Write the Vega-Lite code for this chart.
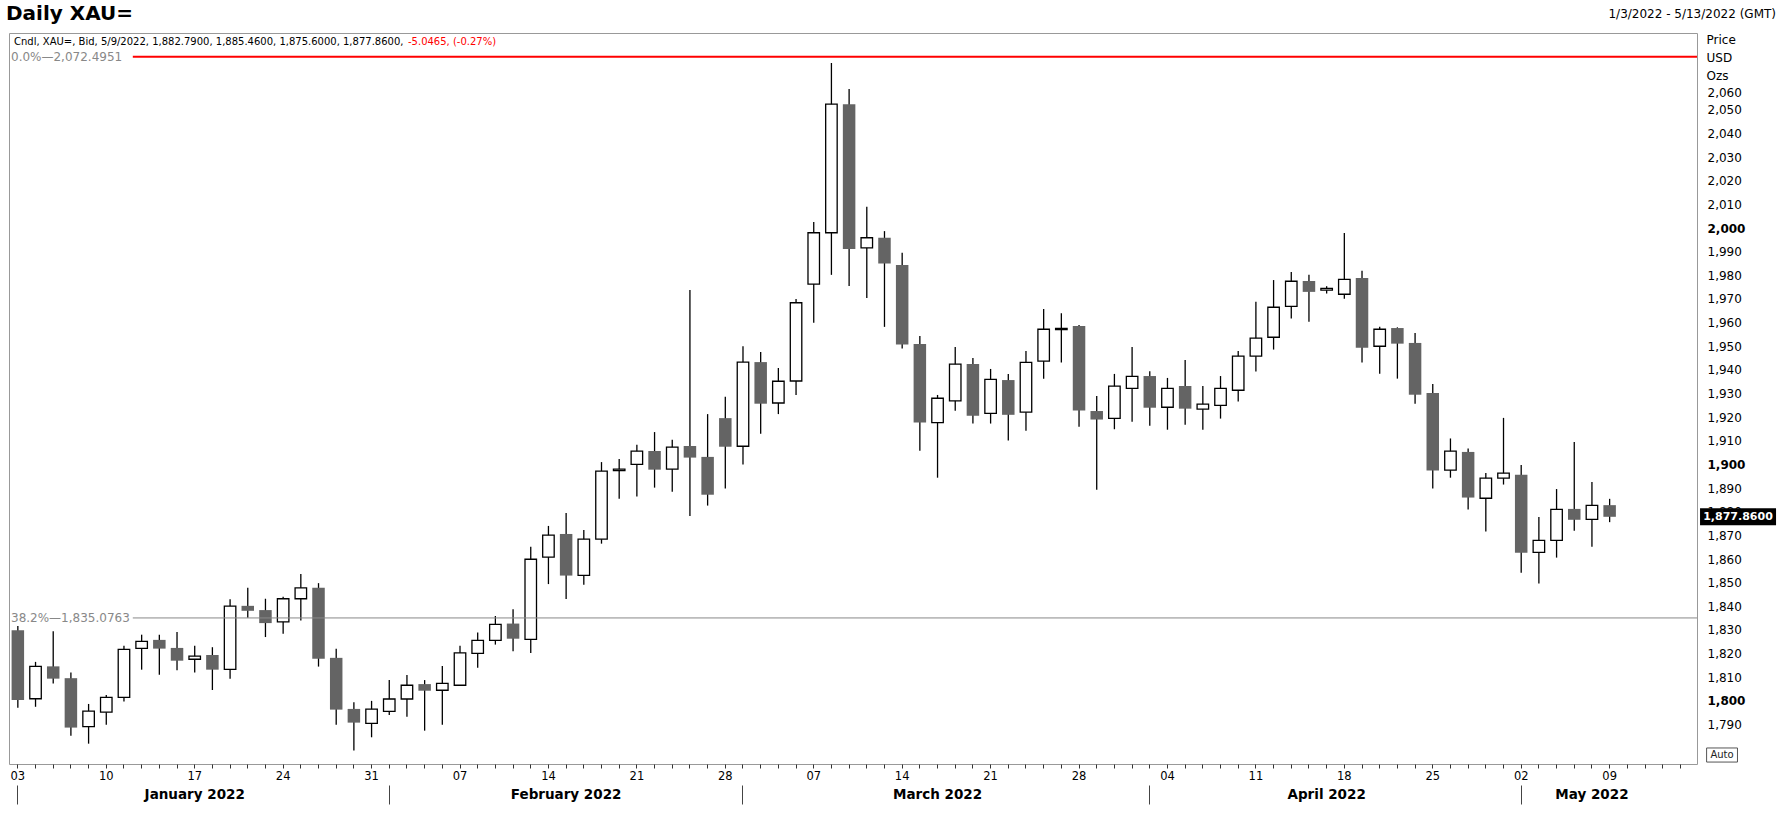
{
"$schema": "https://vega.github.io/schema/vega-lite/v6.json",
"width": 1688, "height": 731,
"autosize": {"type": "none"},
"padding": {"left": 9, "top": 33, "right": 91, "bottom": 63},
"background": "white",
"datasets": {"candles": [
{"d":"2022-01-03","o":1829.9,"h":1831.7,"l":1797.1,"c":1800.4},
{"d":"2022-01-04","o":1800.9,"h":1816.5,"l":1797.5,"c":1814.6},
{"d":"2022-01-05","o":1814.6,"h":1829.4,"l":1807.3,"c":1809.4},
{"d":"2022-01-06","o":1809.6,"h":1812.0,"l":1785.3,"c":1788.7},
{"d":"2022-01-07","o":1789.1,"h":1798.7,"l":1781.9,"c":1795.7},
{"d":"2022-01-10","o":1795.2,"h":1802.5,"l":1789.9,"c":1801.5},
{"d":"2022-01-11","o":1801.5,"h":1823.3,"l":1799.7,"c":1821.8},
{"d":"2022-01-12","o":1822.2,"h":1828.0,"l":1813.2,"c":1825.2},
{"d":"2022-01-13","o":1825.8,"h":1828.0,"l":1811.0,"c":1822.1},
{"d":"2022-01-14","o":1822.4,"h":1829.1,"l":1813.0,"c":1817.0},
{"d":"2022-01-17","o":1817.6,"h":1823.3,"l":1812.0,"c":1818.9},
{"d":"2022-01-18","o":1819.4,"h":1822.7,"l":1804.6,"c":1813.2},
{"d":"2022-01-19","o":1813.3,"h":1843.0,"l":1809.4,"c":1840.1},
{"d":"2022-01-20","o":1840.2,"h":1847.8,"l":1835.2,"c":1838.1},
{"d":"2022-01-21","o":1838.4,"h":1843.2,"l":1827.0,"c":1832.9},
{"d":"2022-01-24","o":1833.4,"h":1844.0,"l":1828.4,"c":1843.2},
{"d":"2022-01-25","o":1843.2,"h":1853.7,"l":1834.0,"c":1847.8},
{"d":"2022-01-26","o":1847.8,"h":1849.8,"l":1814.5,"c":1817.8},
{"d":"2022-01-27","o":1818.2,"h":1822.0,"l":1789.9,"c":1796.3},
{"d":"2022-01-28","o":1796.6,"h":1799.4,"l":1779.0,"c":1790.8},
{"d":"2022-01-31","o":1790.5,"h":1800.0,"l":1784.6,"c":1796.5},
{"d":"2022-02-01","o":1795.6,"h":1808.8,"l":1794.0,"c":1800.8},
{"d":"2022-02-02","o":1800.8,"h":1810.9,"l":1793.3,"c":1806.6},
{"d":"2022-02-03","o":1807.1,"h":1808.8,"l":1787.4,"c":1804.3},
{"d":"2022-02-04","o":1804.5,"h":1814.7,"l":1789.9,"c":1807.4},
{"d":"2022-02-07","o":1806.6,"h":1823.3,"l":1806.6,"c":1820.3},
{"d":"2022-02-08","o":1820.1,"h":1828.9,"l":1814.0,"c":1825.6},
{"d":"2022-02-09","o":1825.6,"h":1835.9,"l":1823.8,"c":1832.4},
{"d":"2022-02-10","o":1832.7,"h":1838.8,"l":1821.0,"c":1826.3},
{"d":"2022-02-11","o":1826.0,"h":1865.2,"l":1820.2,"c":1859.9},
{"d":"2022-02-14","o":1860.8,"h":1874.0,"l":1849.4,"c":1870.1},
{"d":"2022-02-15","o":1870.6,"h":1879.5,"l":1843.1,"c":1853.0},
{"d":"2022-02-16","o":1853.1,"h":1872.3,"l":1849.1,"c":1868.4},
{"d":"2022-02-17","o":1868.4,"h":1901.0,"l":1866.5,"c":1897.2},
{"d":"2022-02-18","o":1897.4,"h":1902.3,"l":1885.5,"c":1898.0},
{"d":"2022-02-21","o":1900.0,"h":1908.3,"l":1886.4,"c":1905.6},
{"d":"2022-02-22","o":1905.7,"h":1913.7,"l":1890.2,"c":1897.8},
{"d":"2022-02-23","o":1898.0,"h":1910.4,"l":1888.5,"c":1907.3},
{"d":"2022-02-24","o":1907.8,"h":1973.8,"l":1878.2,"c":1902.9},
{"d":"2022-02-25","o":1903.2,"h":1921.3,"l":1882.6,"c":1887.2},
{"d":"2022-02-28","o":1919.6,"h":1928.6,"l":1889.8,"c":1907.5},
{"d":"2022-03-01","o":1907.7,"h":1950.0,"l":1900.0,"c":1943.3},
{"d":"2022-03-02","o":1943.3,"h":1947.6,"l":1913.0,"c":1925.7},
{"d":"2022-03-03","o":1926.0,"h":1940.8,"l":1921.3,"c":1935.2},
{"d":"2022-03-04","o":1935.3,"h":1970.0,"l":1929.4,"c":1968.4},
{"d":"2022-03-07","o":1976.3,"h":2002.6,"l":1959.9,"c":1998.0},
{"d":"2022-03-08","o":1998.0,"h":2069.8,"l":1980.2,"c":2052.4},
{"d":"2022-03-09","o":2052.4,"h":2058.8,"l":1975.5,"c":1991.1},
{"d":"2022-03-10","o":1991.6,"h":2009.0,"l":1970.4,"c":1995.9},
{"d":"2022-03-11","o":1995.9,"h":1998.7,"l":1958.2,"c":1985.0},
{"d":"2022-03-14","o":1984.4,"h":1989.5,"l":1949.0,"c":1950.7},
{"d":"2022-03-15","o":1950.9,"h":1954.3,"l":1905.8,"c":1917.7},
{"d":"2022-03-16","o":1917.7,"h":1929.4,"l":1894.4,"c":1928.0},
{"d":"2022-03-17","o":1926.9,"h":1949.7,"l":1922.7,"c":1942.4},
{"d":"2022-03-18","o":1942.5,"h":1945.0,"l":1917.3,"c":1920.6},
{"d":"2022-03-21","o":1921.6,"h":1940.4,"l":1917.3,"c":1936.0},
{"d":"2022-03-22","o":1935.7,"h":1938.3,"l":1910.1,"c":1921.0},
{"d":"2022-03-23","o":1922.1,"h":1948.0,"l":1914.3,"c":1943.2},
{"d":"2022-03-24","o":1943.7,"h":1965.8,"l":1936.3,"c":1957.2},
{"d":"2022-03-25","o":1957.0,"h":1964.0,"l":1943.1,"c":1957.6},
{"d":"2022-03-28","o":1958.6,"h":1959.0,"l":1916.0,"c":1922.8},
{"d":"2022-03-29","o":1922.6,"h":1929.0,"l":1889.3,"c":1919.0},
{"d":"2022-03-30","o":1919.5,"h":1938.3,"l":1914.9,"c":1933.1},
{"d":"2022-03-31","o":1932.2,"h":1949.7,"l":1918.1,"c":1937.3},
{"d":"2022-04-01","o":1937.4,"h":1939.4,"l":1916.4,"c":1924.0},
{"d":"2022-04-04","o":1924.2,"h":1936.6,"l":1914.7,"c":1932.2},
{"d":"2022-04-05","o":1933.2,"h":1944.2,"l":1916.8,"c":1923.6},
{"d":"2022-04-06","o":1923.4,"h":1933.2,"l":1914.7,"c":1925.5},
{"d":"2022-04-07","o":1925.0,"h":1937.4,"l":1919.4,"c":1932.2},
{"d":"2022-04-08","o":1931.4,"h":1948.0,"l":1926.6,"c":1945.8},
{"d":"2022-04-11","o":1945.8,"h":1968.8,"l":1939.3,"c":1953.4},
{"d":"2022-04-12","o":1953.8,"h":1978.0,"l":1948.6,"c":1966.5},
{"d":"2022-04-13","o":1966.9,"h":1981.4,"l":1961.7,"c":1977.5},
{"d":"2022-04-14","o":1977.6,"h":1980.2,"l":1960.4,"c":1973.0},
{"d":"2022-04-15","o":1973.7,"h":1975.4,"l":1972.3,"c":1974.5},
{"d":"2022-04-18","o":1972.0,"h":1997.9,"l":1970.1,"c":1978.3},
{"d":"2022-04-19","o":1978.9,"h":1981.9,"l":1943.1,"c":1949.4},
{"d":"2022-04-20","o":1950.0,"h":1958.2,"l":1938.4,"c":1957.2},
{"d":"2022-04-21","o":1957.7,"h":1958.0,"l":1936.3,"c":1951.1},
{"d":"2022-04-22","o":1951.4,"h":1955.6,"l":1925.7,"c":1929.5},
{"d":"2022-04-25","o":1930.2,"h":1934.0,"l":1889.8,"c":1897.4},
{"d":"2022-04-26","o":1897.6,"h":1911.0,"l":1894.4,"c":1905.6},
{"d":"2022-04-27","o":1905.3,"h":1906.8,"l":1880.9,"c":1886.0},
{"d":"2022-04-28","o":1885.7,"h":1896.4,"l":1871.6,"c":1894.2},
{"d":"2022-04-29","o":1894.2,"h":1919.7,"l":1891.5,"c":1896.3},
{"d":"2022-05-02","o":1895.6,"h":1899.8,"l":1854.2,"c":1862.7},
{"d":"2022-05-03","o":1862.8,"h":1877.8,"l":1849.6,"c":1867.9},
{"d":"2022-05-04","o":1867.9,"h":1889.6,"l":1860.6,"c":1881.0},
{"d":"2022-05-05","o":1881.2,"h":1909.5,"l":1872.0,"c":1876.6},
{"d":"2022-05-06","o":1876.8,"h":1892.6,"l":1865.2,"c":1882.7},
{"d":"2022-05-09","o":1882.79,"h":1885.46,"l":1875.6,"c":1877.86}
]},
"data": {"name": "candles"},
"layer": [
{"mark": {"type": "rule", "color": "black", "strokeWidth": 1.3},
 "encoding": {
  "x": {"field": "d", "type": "ordinal",
   "scale": {"type": "band", "paddingInner": 0, "paddingOuter": 0.22, "align": 0, "domain": ["2022-01-03","2022-01-04","2022-01-05","2022-01-06","2022-01-07","2022-01-10","2022-01-11","2022-01-12","2022-01-13","2022-01-14","2022-01-17","2022-01-18","2022-01-19","2022-01-20","2022-01-21","2022-01-24","2022-01-25","2022-01-26","2022-01-27","2022-01-28","2022-01-31","2022-02-01","2022-02-02","2022-02-03","2022-02-04","2022-02-07","2022-02-08","2022-02-09","2022-02-10","2022-02-11","2022-02-14","2022-02-15","2022-02-16","2022-02-17","2022-02-18","2022-02-21","2022-02-22","2022-02-23","2022-02-24","2022-02-25","2022-02-28","2022-03-01","2022-03-02","2022-03-03","2022-03-04","2022-03-07","2022-03-08","2022-03-09","2022-03-10","2022-03-11","2022-03-14","2022-03-15","2022-03-16","2022-03-17","2022-03-18","2022-03-21","2022-03-22","2022-03-23","2022-03-24","2022-03-25","2022-03-28","2022-03-29","2022-03-30","2022-03-31","2022-04-01","2022-04-04","2022-04-05","2022-04-06","2022-04-07","2022-04-08","2022-04-11","2022-04-12","2022-04-13","2022-04-14","2022-04-15","2022-04-18","2022-04-19","2022-04-20","2022-04-21","2022-04-22","2022-04-25","2022-04-26","2022-04-27","2022-04-28","2022-04-29","2022-05-02","2022-05-03","2022-05-04","2022-05-05","2022-05-06","2022-05-09","2022-05-10","2022-05-11","2022-05-12","2022-05-13"]},
   "axis": {"orient": "bottom", "title": null, "domain": false, "ticks": true, "tickSize": 4, "tickColor": "#333333", "tickWidth": 1, "labelPadding": 2, "labelFontSize": 11.5, "labelColor": "black", "labelAngle": 0, "labelOverlap": false, "labelBaseline": "top", "labelExpr": "utcday(toDate(datum.value)) == 1 ? utcFormat(toDate(datum.value), '%d') : ''"}},
  "y": {"field": "l", "type": "quantitative", "scale": {"domain": [1773.3, 2082.5], "nice": false, "zero": false},
   "axis": {"orient": "right", "values": [1790,1800,1810,1820,1830,1840,1850,1860,1870,1880,1890,1900,1910,1920,1930,1940,1950,1960,1970,1980,1990,2000,2010,2020,2030,2040,2050,2060], "format": ",.0f", "ticks": false, "domain": false, "grid": false, "labelPadding": 10, "labelFontSize": 12, "labelColor": "black", "labelAlign": "left", "labelBaseline": "middle", "labelOverlap": false, "labelOffset": {"condition": {"test": "datum.value === 2060", "value": 6}, "value": 0}, "labelFontWeight": {"condition": {"test": "datum.value % 100 === 0", "value": "bold"}, "value": "normal"}, "title": ["Price", "USD", "Ozs"], "titleAngle": 0, "titleAlign": "left", "titleBaseline": "top", "titleX": 9, "titleY": 1, "titleFontSize": 12, "titleFontWeight": "normal", "titleColor": "black", "titleLineHeight": 18}},
  "y2": {"field": "h"}
 }},
{"transform": [{"filter": "datum.c < datum.o"}],
 "mark": {"type": "bar", "width": 12.5, "color": "#646464"},
 "encoding": {
  "x": {"field": "d", "type": "ordinal",
   "scale": {"type": "band", "paddingInner": 0, "paddingOuter": 0.22, "align": 0, "domain": ["2022-01-03","2022-01-04","2022-01-05","2022-01-06","2022-01-07","2022-01-10","2022-01-11","2022-01-12","2022-01-13","2022-01-14","2022-01-17","2022-01-18","2022-01-19","2022-01-20","2022-01-21","2022-01-24","2022-01-25","2022-01-26","2022-01-27","2022-01-28","2022-01-31","2022-02-01","2022-02-02","2022-02-03","2022-02-04","2022-02-07","2022-02-08","2022-02-09","2022-02-10","2022-02-11","2022-02-14","2022-02-15","2022-02-16","2022-02-17","2022-02-18","2022-02-21","2022-02-22","2022-02-23","2022-02-24","2022-02-25","2022-02-28","2022-03-01","2022-03-02","2022-03-03","2022-03-04","2022-03-07","2022-03-08","2022-03-09","2022-03-10","2022-03-11","2022-03-14","2022-03-15","2022-03-16","2022-03-17","2022-03-18","2022-03-21","2022-03-22","2022-03-23","2022-03-24","2022-03-25","2022-03-28","2022-03-29","2022-03-30","2022-03-31","2022-04-01","2022-04-04","2022-04-05","2022-04-06","2022-04-07","2022-04-08","2022-04-11","2022-04-12","2022-04-13","2022-04-14","2022-04-15","2022-04-18","2022-04-19","2022-04-20","2022-04-21","2022-04-22","2022-04-25","2022-04-26","2022-04-27","2022-04-28","2022-04-29","2022-05-02","2022-05-03","2022-05-04","2022-05-05","2022-05-06","2022-05-09","2022-05-10","2022-05-11","2022-05-12","2022-05-13"]},
   "axis": {"orient": "bottom", "offset": 21, "title": null, "domain": false, "labels": false, "ticks": true, "tickSize": 19, "tickColor": "#444444", "tickWidth": 1, "values": ["2022-01-03","2022-02-01","2022-03-01","2022-04-01","2022-05-02"]}},
  "y": {"field": "o", "type": "quantitative", "scale": {"domain": [1773.3, 2082.5], "nice": false, "zero": false}, "axis": null},
  "y2": {"field": "c"}
 }},
{"transform": [{"filter": "datum.c >= datum.o"}],
 "mark": {"type": "bar", "width": 11.5, "fill": "white", "stroke": "black", "strokeWidth": 1.3},
 "encoding": {
  "x": {"field": "d", "type": "ordinal",
   "scale": {"type": "band", "paddingInner": 0, "paddingOuter": 0.22, "align": 0, "domain": ["2022-01-03","2022-01-04","2022-01-05","2022-01-06","2022-01-07","2022-01-10","2022-01-11","2022-01-12","2022-01-13","2022-01-14","2022-01-17","2022-01-18","2022-01-19","2022-01-20","2022-01-21","2022-01-24","2022-01-25","2022-01-26","2022-01-27","2022-01-28","2022-01-31","2022-02-01","2022-02-02","2022-02-03","2022-02-04","2022-02-07","2022-02-08","2022-02-09","2022-02-10","2022-02-11","2022-02-14","2022-02-15","2022-02-16","2022-02-17","2022-02-18","2022-02-21","2022-02-22","2022-02-23","2022-02-24","2022-02-25","2022-02-28","2022-03-01","2022-03-02","2022-03-03","2022-03-04","2022-03-07","2022-03-08","2022-03-09","2022-03-10","2022-03-11","2022-03-14","2022-03-15","2022-03-16","2022-03-17","2022-03-18","2022-03-21","2022-03-22","2022-03-23","2022-03-24","2022-03-25","2022-03-28","2022-03-29","2022-03-30","2022-03-31","2022-04-01","2022-04-04","2022-04-05","2022-04-06","2022-04-07","2022-04-08","2022-04-11","2022-04-12","2022-04-13","2022-04-14","2022-04-15","2022-04-18","2022-04-19","2022-04-20","2022-04-21","2022-04-22","2022-04-25","2022-04-26","2022-04-27","2022-04-28","2022-04-29","2022-05-02","2022-05-03","2022-05-04","2022-05-05","2022-05-06","2022-05-09","2022-05-10","2022-05-11","2022-05-12","2022-05-13"]},
   "axis": {"orient": "bottom", "offset": 21, "title": null, "domain": false, "ticks": false, "labelPadding": 2, "labelFontSize": 13.5, "labelFontWeight": "bold", "labelColor": "black", "labelAngle": 0, "labelDx": 9, "labelOverlap": false, "labelBaseline": "top", "values": ["2022-01-17","2022-02-15","2022-03-16","2022-04-15","2022-05-06"], "labelExpr": "utcFormat(toDate(datum.value), '%B %Y')"}},
  "y": {"field": "o", "type": "quantitative", "scale": {"domain": [1773.3, 2082.5], "nice": false, "zero": false}, "axis": null},
  "y2": {"field": "c"}
 }},
{"data": {"values": [{"price": 2072.4951}]},
 "mark": {"type": "rule", "color": "#ff0000", "strokeWidth": 2},
 "encoding": {
  "x": {"datum": "2022-01-11", "type": "ordinal", "bandPosition": 1, "scale": {"type": "band", "paddingInner": 0, "paddingOuter": 0.22, "align": 0, "domain": ["2022-01-03","2022-01-04","2022-01-05","2022-01-06","2022-01-07","2022-01-10","2022-01-11","2022-01-12","2022-01-13","2022-01-14","2022-01-17","2022-01-18","2022-01-19","2022-01-20","2022-01-21","2022-01-24","2022-01-25","2022-01-26","2022-01-27","2022-01-28","2022-01-31","2022-02-01","2022-02-02","2022-02-03","2022-02-04","2022-02-07","2022-02-08","2022-02-09","2022-02-10","2022-02-11","2022-02-14","2022-02-15","2022-02-16","2022-02-17","2022-02-18","2022-02-21","2022-02-22","2022-02-23","2022-02-24","2022-02-25","2022-02-28","2022-03-01","2022-03-02","2022-03-03","2022-03-04","2022-03-07","2022-03-08","2022-03-09","2022-03-10","2022-03-11","2022-03-14","2022-03-15","2022-03-16","2022-03-17","2022-03-18","2022-03-21","2022-03-22","2022-03-23","2022-03-24","2022-03-25","2022-03-28","2022-03-29","2022-03-30","2022-03-31","2022-04-01","2022-04-04","2022-04-05","2022-04-06","2022-04-07","2022-04-08","2022-04-11","2022-04-12","2022-04-13","2022-04-14","2022-04-15","2022-04-18","2022-04-19","2022-04-20","2022-04-21","2022-04-22","2022-04-25","2022-04-26","2022-04-27","2022-04-28","2022-04-29","2022-05-02","2022-05-03","2022-05-04","2022-05-05","2022-05-06","2022-05-09","2022-05-10","2022-05-11","2022-05-12","2022-05-13"]}, "axis": null},
  "x2": {"value": "width"},
  "y": {"field": "price", "type": "quantitative", "scale": {"domain": [1773.3, 2082.5], "nice": false, "zero": false}, "axis": null}
 }},
{"data": {"values": [{"price": 1835.0763}]},
 "mark": {"type": "rule", "color": "#888888", "strokeWidth": 1},
 "encoding": {
  "x": {"datum": "2022-01-11", "type": "ordinal", "bandPosition": 1, "scale": {"type": "band", "paddingInner": 0, "paddingOuter": 0.22, "align": 0, "domain": ["2022-01-03","2022-01-04","2022-01-05","2022-01-06","2022-01-07","2022-01-10","2022-01-11","2022-01-12","2022-01-13","2022-01-14","2022-01-17","2022-01-18","2022-01-19","2022-01-20","2022-01-21","2022-01-24","2022-01-25","2022-01-26","2022-01-27","2022-01-28","2022-01-31","2022-02-01","2022-02-02","2022-02-03","2022-02-04","2022-02-07","2022-02-08","2022-02-09","2022-02-10","2022-02-11","2022-02-14","2022-02-15","2022-02-16","2022-02-17","2022-02-18","2022-02-21","2022-02-22","2022-02-23","2022-02-24","2022-02-25","2022-02-28","2022-03-01","2022-03-02","2022-03-03","2022-03-04","2022-03-07","2022-03-08","2022-03-09","2022-03-10","2022-03-11","2022-03-14","2022-03-15","2022-03-16","2022-03-17","2022-03-18","2022-03-21","2022-03-22","2022-03-23","2022-03-24","2022-03-25","2022-03-28","2022-03-29","2022-03-30","2022-03-31","2022-04-01","2022-04-04","2022-04-05","2022-04-06","2022-04-07","2022-04-08","2022-04-11","2022-04-12","2022-04-13","2022-04-14","2022-04-15","2022-04-18","2022-04-19","2022-04-20","2022-04-21","2022-04-22","2022-04-25","2022-04-26","2022-04-27","2022-04-28","2022-04-29","2022-05-02","2022-05-03","2022-05-04","2022-05-05","2022-05-06","2022-05-09","2022-05-10","2022-05-11","2022-05-12","2022-05-13"]}, "axis": null},
  "x2": {"value": "width"},
  "y": {"field": "price", "type": "quantitative", "scale": {"domain": [1773.3, 2082.5], "nice": false, "zero": false}, "axis": null}
 }},
{"data": {"values": [{"price": 2072.4951, "label": "0.0%—2,072.4951"}, {"price": 1835.0763, "label": "38.2%—1,835.0763"}]},
 "mark": {"type": "text", "align": "left", "baseline": "middle", "fontSize": 12, "color": "#888888", "dx": 2},
 "encoding": {
  "x": {"datum": "2022-01-03", "type": "ordinal", "bandPosition": 0, "scale": {"type": "band", "paddingInner": 0, "paddingOuter": 0.22, "align": 0, "domain": ["2022-01-03","2022-01-04","2022-01-05","2022-01-06","2022-01-07","2022-01-10","2022-01-11","2022-01-12","2022-01-13","2022-01-14","2022-01-17","2022-01-18","2022-01-19","2022-01-20","2022-01-21","2022-01-24","2022-01-25","2022-01-26","2022-01-27","2022-01-28","2022-01-31","2022-02-01","2022-02-02","2022-02-03","2022-02-04","2022-02-07","2022-02-08","2022-02-09","2022-02-10","2022-02-11","2022-02-14","2022-02-15","2022-02-16","2022-02-17","2022-02-18","2022-02-21","2022-02-22","2022-02-23","2022-02-24","2022-02-25","2022-02-28","2022-03-01","2022-03-02","2022-03-03","2022-03-04","2022-03-07","2022-03-08","2022-03-09","2022-03-10","2022-03-11","2022-03-14","2022-03-15","2022-03-16","2022-03-17","2022-03-18","2022-03-21","2022-03-22","2022-03-23","2022-03-24","2022-03-25","2022-03-28","2022-03-29","2022-03-30","2022-03-31","2022-04-01","2022-04-04","2022-04-05","2022-04-06","2022-04-07","2022-04-08","2022-04-11","2022-04-12","2022-04-13","2022-04-14","2022-04-15","2022-04-18","2022-04-19","2022-04-20","2022-04-21","2022-04-22","2022-04-25","2022-04-26","2022-04-27","2022-04-28","2022-04-29","2022-05-02","2022-05-03","2022-05-04","2022-05-05","2022-05-06","2022-05-09","2022-05-10","2022-05-11","2022-05-12","2022-05-13"]}, "axis": null},
  "y": {"field": "price", "type": "quantitative", "scale": {"domain": [1773.3, 2082.5], "nice": false, "zero": false}, "axis": null},
  "text": {"field": "label"}
 }},
{"data": {"values": [{"t": "Daily XAU="}]},
 "mark": {"type": "text", "align": "left", "baseline": "middle", "fontSize": 20, "fontWeight": "bold", "color": "black", "dx": -3},
 "encoding": {
  "x": {"datum": "2022-01-03", "type": "ordinal", "bandPosition": 0, "scale": {"type": "band", "paddingInner": 0, "paddingOuter": 0.22, "align": 0, "domain": ["2022-01-03","2022-01-04","2022-01-05","2022-01-06","2022-01-07","2022-01-10","2022-01-11","2022-01-12","2022-01-13","2022-01-14","2022-01-17","2022-01-18","2022-01-19","2022-01-20","2022-01-21","2022-01-24","2022-01-25","2022-01-26","2022-01-27","2022-01-28","2022-01-31","2022-02-01","2022-02-02","2022-02-03","2022-02-04","2022-02-07","2022-02-08","2022-02-09","2022-02-10","2022-02-11","2022-02-14","2022-02-15","2022-02-16","2022-02-17","2022-02-18","2022-02-21","2022-02-22","2022-02-23","2022-02-24","2022-02-25","2022-02-28","2022-03-01","2022-03-02","2022-03-03","2022-03-04","2022-03-07","2022-03-08","2022-03-09","2022-03-10","2022-03-11","2022-03-14","2022-03-15","2022-03-16","2022-03-17","2022-03-18","2022-03-21","2022-03-22","2022-03-23","2022-03-24","2022-03-25","2022-03-28","2022-03-29","2022-03-30","2022-03-31","2022-04-01","2022-04-04","2022-04-05","2022-04-06","2022-04-07","2022-04-08","2022-04-11","2022-04-12","2022-04-13","2022-04-14","2022-04-15","2022-04-18","2022-04-19","2022-04-20","2022-04-21","2022-04-22","2022-04-25","2022-04-26","2022-04-27","2022-04-28","2022-04-29","2022-05-02","2022-05-03","2022-05-04","2022-05-05","2022-05-06","2022-05-09","2022-05-10","2022-05-11","2022-05-12","2022-05-13"]}, "axis": null},
  "y": {"datum": 2090.6, "type": "quantitative", "scale": {"domain": [1773.3, 2082.5], "nice": false, "zero": false}, "axis": null},
  "text": {"field": "t"}
 }},
{"data": {"values": [{"t": "Cndl, XAU=, Bid, 5/9/2022, 1,882.7900, 1,885.4600, 1,875.6000, 1,877.8600,"}]},
 "mark": {"type": "text", "align": "left", "baseline": "middle", "fontSize": 10, "color": "black", "dx": 5},
 "encoding": {
  "x": {"datum": "2022-01-03", "type": "ordinal", "bandPosition": 0, "scale": {"type": "band", "paddingInner": 0, "paddingOuter": 0.22, "align": 0, "domain": ["2022-01-03","2022-01-04","2022-01-05","2022-01-06","2022-01-07","2022-01-10","2022-01-11","2022-01-12","2022-01-13","2022-01-14","2022-01-17","2022-01-18","2022-01-19","2022-01-20","2022-01-21","2022-01-24","2022-01-25","2022-01-26","2022-01-27","2022-01-28","2022-01-31","2022-02-01","2022-02-02","2022-02-03","2022-02-04","2022-02-07","2022-02-08","2022-02-09","2022-02-10","2022-02-11","2022-02-14","2022-02-15","2022-02-16","2022-02-17","2022-02-18","2022-02-21","2022-02-22","2022-02-23","2022-02-24","2022-02-25","2022-02-28","2022-03-01","2022-03-02","2022-03-03","2022-03-04","2022-03-07","2022-03-08","2022-03-09","2022-03-10","2022-03-11","2022-03-14","2022-03-15","2022-03-16","2022-03-17","2022-03-18","2022-03-21","2022-03-22","2022-03-23","2022-03-24","2022-03-25","2022-03-28","2022-03-29","2022-03-30","2022-03-31","2022-04-01","2022-04-04","2022-04-05","2022-04-06","2022-04-07","2022-04-08","2022-04-11","2022-04-12","2022-04-13","2022-04-14","2022-04-15","2022-04-18","2022-04-19","2022-04-20","2022-04-21","2022-04-22","2022-04-25","2022-04-26","2022-04-27","2022-04-28","2022-04-29","2022-05-02","2022-05-03","2022-05-04","2022-05-05","2022-05-06","2022-05-09","2022-05-10","2022-05-11","2022-05-12","2022-05-13"]}, "axis": null},
  "y": {"datum": 2078.7, "type": "quantitative", "scale": {"domain": [1773.3, 2082.5], "nice": false, "zero": false}, "axis": null},
  "text": {"field": "t"}
 }},
{"data": {"values": [{"t": "-5.0465, (-0.27%)"}]},
 "mark": {"type": "text", "align": "left", "baseline": "middle", "fontSize": 10, "color": "#ff0000", "dx": 399},
 "encoding": {
  "x": {"datum": "2022-01-03", "type": "ordinal", "bandPosition": 0, "scale": {"type": "band", "paddingInner": 0, "paddingOuter": 0.22, "align": 0, "domain": ["2022-01-03","2022-01-04","2022-01-05","2022-01-06","2022-01-07","2022-01-10","2022-01-11","2022-01-12","2022-01-13","2022-01-14","2022-01-17","2022-01-18","2022-01-19","2022-01-20","2022-01-21","2022-01-24","2022-01-25","2022-01-26","2022-01-27","2022-01-28","2022-01-31","2022-02-01","2022-02-02","2022-02-03","2022-02-04","2022-02-07","2022-02-08","2022-02-09","2022-02-10","2022-02-11","2022-02-14","2022-02-15","2022-02-16","2022-02-17","2022-02-18","2022-02-21","2022-02-22","2022-02-23","2022-02-24","2022-02-25","2022-02-28","2022-03-01","2022-03-02","2022-03-03","2022-03-04","2022-03-07","2022-03-08","2022-03-09","2022-03-10","2022-03-11","2022-03-14","2022-03-15","2022-03-16","2022-03-17","2022-03-18","2022-03-21","2022-03-22","2022-03-23","2022-03-24","2022-03-25","2022-03-28","2022-03-29","2022-03-30","2022-03-31","2022-04-01","2022-04-04","2022-04-05","2022-04-06","2022-04-07","2022-04-08","2022-04-11","2022-04-12","2022-04-13","2022-04-14","2022-04-15","2022-04-18","2022-04-19","2022-04-20","2022-04-21","2022-04-22","2022-04-25","2022-04-26","2022-04-27","2022-04-28","2022-04-29","2022-05-02","2022-05-03","2022-05-04","2022-05-05","2022-05-06","2022-05-09","2022-05-10","2022-05-11","2022-05-12","2022-05-13"]}, "axis": null},
  "y": {"datum": 2078.7, "type": "quantitative", "scale": {"domain": [1773.3, 2082.5], "nice": false, "zero": false}, "axis": null},
  "text": {"field": "t"}
 }},
{"data": {"values": [{"t": "1/3/2022 - 5/13/2022 (GMT)"}]},
 "mark": {"type": "text", "align": "right", "baseline": "middle", "fontSize": 12, "color": "black", "dx": 79},
 "encoding": {
  "x": {"value": "width"},
  "y": {"datum": 2090.6, "type": "quantitative", "scale": {"domain": [1773.3, 2082.5], "nice": false, "zero": false}, "axis": null},
  "text": {"field": "t"}
 }},
{"transform": [{"filter": "datum.d == '2022-05-09'"}],
 "mark": {"type": "point", "shape": "M0.08,-0.225L2.08,-0.225L2.08,0.225L0.08,0.225Z", "size": 5776, "filled": true, "color": "black", "opacity": 1},
 "encoding": {
  "x": {"value": "width"},
  "y": {"field": "c", "type": "quantitative", "scale": {"domain": [1773.3, 2082.5], "nice": false, "zero": false}, "axis": null}
 }},
{"transform": [{"filter": "datum.d == '2022-05-09'"}],
 "mark": {"type": "text", "align": "center", "baseline": "middle", "fontSize": 11, "fontWeight": "bold", "color": "white", "dx": 41},
 "encoding": {
  "x": {"value": "width"},
  "y": {"field": "c", "type": "quantitative", "scale": {"domain": [1773.3, 2082.5], "nice": false, "zero": false}, "axis": null},
  "text": {"field": "c", "type": "quantitative", "format": ",.4f"}
 }},
{"data": {"values": [{"t": "Auto"}]},
 "mark": {"type": "point", "shape": "M0.6,-0.44L2.53,-0.44L2.53,0.44L0.6,0.44Z", "size": 1024, "filled": false, "color": "#555555", "strokeWidth": 1, "opacity": 1},
 "encoding": {
  "x": {"value": "width"},
  "y": {"datum": 1777.1, "type": "quantitative", "scale": {"domain": [1773.3, 2082.5], "nice": false, "zero": false}, "axis": null}
 }},
{"data": {"values": [{"t": "Auto"}]},
 "mark": {"type": "text", "align": "center", "baseline": "middle", "fontSize": 10, "color": "#222222", "dx": 25},
 "encoding": {
  "x": {"value": "width"},
  "y": {"datum": 1777.1, "type": "quantitative", "scale": {"domain": [1773.3, 2082.5], "nice": false, "zero": false}, "axis": null},
  "text": {"field": "t"}
 }}
],
"resolve": {"axis": {"x": "independent", "y": "independent"}},
"config": {"font": "DejaVu Sans", "view": {"stroke": "#999999", "strokeWidth": 1}, "axis": {"grid": false}}
}
